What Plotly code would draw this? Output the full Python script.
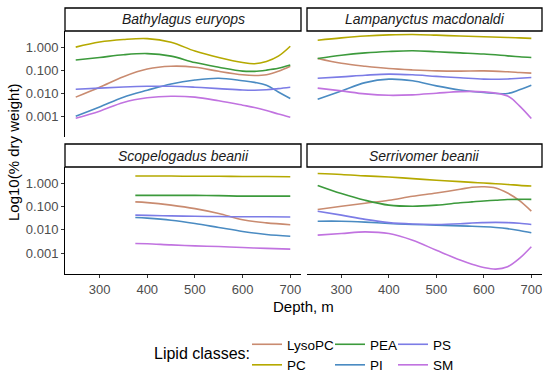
import plotly.graph_objects as go

# ---------------- data (log10 of % dry weight) ----------------
CLASSES = ["LysoPC", "PC", "PEA", "PI", "PS", "SM"]
COLORS = {"LysoPC": "#C98B70", "PC": "#B5A900", "PEA": "#3C9A3C",
          "PI": "#4A8BC2", "PS": "#7C7CE6", "SM": "#C173E0"}
YTICK_VALS = [1, 0.1, 0.01, 0.001]
YTICK_TEXT = ["1.000", "0.100", "0.010", "0.001"]
XTICK_VALS = [300, 400, 500, 600, 700]

depth_bathylagus = [250, 300, 350, 400, 450, 500, 550, 600, 625, 650, 675, 700]
bathylagus = {
    "PC":     [0.00, 0.22, 0.33, 0.37, 0.21, -0.17, -0.45, -0.67, -0.72, -0.62, -0.39, 0.04],
    "PEA":    [-0.56, -0.45, -0.33, -0.28, -0.39, -0.67, -0.87, -1.04, -1.05, -1.00, -0.92, -0.78],
    "LysoPC": [-2.17, -1.74, -1.28, -0.95, -0.83, -0.87, -1.05, -1.20, -1.23, -1.20, -1.05, -0.83],
    "PS":     [-1.83, -1.78, -1.73, -1.70, -1.70, -1.74, -1.80, -1.86, -1.87, -1.85, -1.80, -1.74],
    "PI":     [-3.00, -2.60, -2.17, -1.87, -1.60, -1.43, -1.35, -1.46, -1.53, -1.65, -1.95, -2.23],
    "SM":     [-3.09, -2.78, -2.40, -2.20, -2.13, -2.17, -2.33, -2.52, -2.62, -2.75, -2.90, -3.04],
}

depth_lampanyctus = [250, 300, 350, 400, 450, 500, 550, 600, 650, 675, 700]
lampanyctus = {
    "PC":     [0.30, 0.40, 0.48, 0.53, 0.55, 0.52, 0.48, 0.45, 0.42, 0.40, 0.38],
    "PEA":    [-0.49, -0.35, -0.25, -0.19, -0.16, -0.20, -0.25, -0.30, -0.38, -0.42, -0.45],
    "LysoPC": [-0.49, -0.70, -0.83, -0.93, -0.99, -1.03, -1.04, -1.03, -1.07, -1.10, -1.13],
    "PS":     [-1.35, -1.29, -1.22, -1.17, -1.20, -1.27, -1.33, -1.39, -1.38, -1.35, -1.32],
    "PI":     [-2.26, -1.90, -1.54, -1.39, -1.46, -1.68, -1.86, -1.97, -2.01, -1.85, -1.65],
    "SM":     [-1.78, -1.90, -2.03, -2.09, -2.07, -2.00, -1.93, -1.94, -2.12, -2.55, -3.10],
}

depth_scopelogadus = [375, 400, 450, 500, 550, 600, 650, 700]
scopelogadus = {
    "PC":     [0.31, 0.31, 0.31, 0.30, 0.30, 0.29, 0.29, 0.28],
    "PEA":    [-0.52, -0.52, -0.52, -0.52, -0.53, -0.55, -0.55, -0.55],
    "LysoPC": [-0.80, -0.83, -0.94, -1.09, -1.30, -1.57, -1.70, -1.78],
    "PS":     [-1.37, -1.38, -1.40, -1.42, -1.43, -1.44, -1.44, -1.45],
    "PI":     [-1.47, -1.50, -1.59, -1.73, -1.90, -2.07, -2.20, -2.28],
    "SM":     [-2.59, -2.60, -2.65, -2.69, -2.72, -2.76, -2.80, -2.83],
}

depth_serrivomer = [250, 300, 350, 400, 450, 500, 550, 575, 600, 625, 650, 675, 700]
serrivomer = {
    "PC":     [0.42, 0.38, 0.32, 0.27, 0.20, 0.13, 0.07, 0.04, 0.01, -0.02, -0.05, -0.09, -0.12],
    "PEA":    [-0.09, -0.44, -0.73, -0.94, -0.99, -0.94, -0.84, -0.80, -0.76, -0.73, -0.70, -0.69, -0.69],
    "LysoPC": [-1.13, -0.99, -0.86, -0.73, -0.56, -0.42, -0.26, -0.17, -0.15, -0.20, -0.42, -0.75, -1.20],
    "PS":     [-1.20, -1.37, -1.55, -1.69, -1.75, -1.77, -1.74, -1.71, -1.69, -1.68, -1.69, -1.72, -1.77],
    "PI":     [-1.63, -1.63, -1.67, -1.73, -1.77, -1.80, -1.83, -1.85, -1.87, -1.90, -1.95, -2.03, -2.13],
    "SM":     [-2.23, -2.16, -2.09, -2.16, -2.45, -2.88, -3.30, -3.48, -3.62, -3.69, -3.59, -3.23, -2.73],
}

SPECIES = ["Bathylagus euryops", "Lampanyctus macdonaldi", "Scopelogadus beanii", "Serrivomer beanii"]
PANELS = [(depth_bathylagus, bathylagus), (depth_lampanyctus, lampanyctus),
          (depth_scopelogadus, scopelogadus), (depth_serrivomer, serrivomer)]

# ---------------- layout geometry (pixels) ----------------
W, H = 550, 372
FONT = "Liberation Sans, Arial, sans-serif"
XDOM = [(65, 301), (307, 542), (65, 301), (307, 542)]
YDOM = [(31, 137), (31, 137), (167, 274), (167, 274)]   # top, bottom in px from top
STRIP_H = 23
LEGEND_OF = {"LysoPC": "legend", "PC": "legend", "PEA": "legend2", "PI": "legend2",
             "PS": "legend3", "SM": "legend3"}

fig = go.Figure()
for i, (depths, data) in enumerate(PANELS):
    sfx = "" if i == 0 else str(i + 1)
    for cls in CLASSES:
        fig.add_trace(go.Scatter(
            x=depths, y=[10 ** v for v in data[cls]], mode="lines",
            line=dict(color=COLORS[cls], width=1.6, shape="spline", smoothing=1.0),
            name=cls, legend=LEGEND_OF[cls], showlegend=(i == 0),
            xaxis="x" + sfx, yaxis="y" + sfx, hoverinfo="skip"))

layout = dict(width=W, height=H, margin=dict(l=0, r=0, t=0, b=0, autoexpand=False),
              plot_bgcolor="white", paper_bgcolor="white",
              font=dict(family=FONT, size=13, color="#4D4D4D"))
shapes, annotations = [], []
for i in range(4):
    sfx = "" if i == 0 else str(i + 1)
    x0, x1 = XDOM[i]
    yt, yb = YDOM[i]
    bottom = i >= 2
    left = i % 2 == 0
    layout["xaxis" + sfx] = dict(
        domain=[x0 / W, x1 / W], range=[227.5, 722.5], anchor="y" + sfx,
        showgrid=False, zeroline=False, tickvals=XTICK_VALS,
        showticklabels=bottom, showline=bottom, linecolor="black", linewidth=1,
        ticks="outside" if bottom else "", ticklen=3, tickcolor="#333333",
        ticklabeloverflow="allow",
        tickfont=dict(size=13, color="#4D4D4D"))
    layout["yaxis" + sfx] = dict(
        domain=[(H - yb) / H, (H - yt) / H], type="log", range=[-3.9, 0.7],
        anchor="x" + sfx, showgrid=False, zeroline=False,
        tickvals=YTICK_VALS, ticktext=YTICK_TEXT,
        showticklabels=left, showline=left, linecolor="black", linewidth=1,
        ticks="outside" if left else "", ticklen=3, tickcolor="#333333",
        ticklabeloverflow="allow",
        tickfont=dict(size=13, color="#4D4D4D"))
    # facet strip
    shapes.append(dict(type="rect", xref="paper", yref="paper",
                       x0=x0 / W, x1=x1 / W, y0=(H - yt) / H, y1=(H - yt + STRIP_H) / H,
                       line=dict(color="black", width=1.3), fillcolor="white", layer="above"))
    annotations.append(dict(text="<i>" + SPECIES[i] + "</i>", xref="paper", yref="paper",
                            x=(x0 + x1) / 2 / W, y=(H - yt + STRIP_H / 2) / H,
                            showarrow=False, xanchor="center", yanchor="middle",
                            font=dict(size=14, color="#1A1A1A", family=FONT)))

annotations.append(dict(text="Log10(% dry weight)", xref="paper", yref="paper",
                        x=13 / W, y=(H - 152) / H, textangle=-90, showarrow=False,
                        xanchor="center", yanchor="middle",
                        font=dict(size=15, color="black", family=FONT)))
annotations.append(dict(text="Depth, m", xref="paper", yref="paper",
                        x=303.5 / W, y=(H - 306) / H, showarrow=False,
                        xanchor="center", yanchor="middle",
                        font=dict(size=15, color="black", family=FONT)))
annotations.append(dict(text="Lipid classes:", xref="paper", yref="paper",
                        x=202 / W, y=(H - 353) / H, showarrow=False,
                        xanchor="center", yanchor="middle",
                        font=dict(size=16, color="black", family=FONT)))

for name, xpx in [("legend", 247), ("legend2", 330), ("legend3", 393)]:
    layout[name] = dict(x=xpx / W, y=(H - 329) / H, xanchor="left", yanchor="top",
                        orientation="v", bgcolor="rgba(0,0,0,0)", borderwidth=0,
                        font=dict(size=13.5, color="black", family=FONT),
                        tracegroupgap=0, itemwidth=30)

layout["shapes"] = shapes
layout["annotations"] = annotations
fig.update_layout(**layout)

FIT_TO_WINDOW = (
    "document.documentElement.style.margin='0';document.documentElement.style.overflow='hidden';"
    "document.body.style.margin='0';document.body.style.overflow='hidden';"
    "var gd=document.getElementById('{plot_id}');"
    "var w=window.innerWidth||550, h=window.innerHeight||372;"
    "gd.style.width=w+'px';gd.style.height=h+'px';"
    "Plotly.relayout(gd,{width:w,height:h});"
)
fig.write_html("out.html", config={"displayModeBar": False}, post_script=FIT_TO_WINDOW)
